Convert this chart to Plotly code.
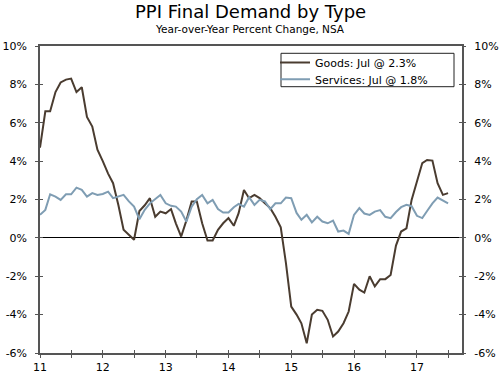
import plotly.graph_objects as go
import pandas as pd

months = pd.date_range("2011-01-01", "2017-07-01", freq="MS")

goods = [4.7, 6.6, 6.6, 7.6, 8.1, 8.25, 8.3, 7.6, 7.85, 6.3, 5.8, 4.6,
         4.0, 3.35, 2.85, 1.7, 0.42, 0.15, -0.1, 1.4, 1.7, 2.07, 1.1, 1.37,
         1.28, 1.5, 0.76, 0.07, 0.9, 1.9, 1.9, 0.76, -0.14, -0.14, 0.42, 0.76,
         1.03, 0.63, 1.29, 2.5, 2.07, 2.24, 2.07, 1.8, 1.55, 1.1, 0.55, -1.3,
         -3.58, -4.0, -4.45, -5.49, -4.0, -3.75, -3.8, -4.27, -5.14, -4.88, -4.45, -3.84,
         -2.4, -2.7, -2.85, -2.0, -2.53, -2.15, -2.15, -1.93, -0.4, 0.33, 0.5, 1.98,
         3.0, 3.9, 4.06, 4.03, 2.85, 2.24, 2.33]

services = [1.2, 1.46, 2.27, 2.15, 1.98, 2.27, 2.27, 2.62, 2.5, 2.15, 2.33, 2.24,
            2.29, 2.41, 2.07, 2.15, 2.24, 1.9, 1.63, 0.97, 1.46, 1.8, 2.02, 2.24,
            1.8, 1.67, 1.63, 1.37, 0.85, 1.63, 2.02, 2.24, 1.8, 1.98, 1.5, 1.32,
            1.32, 1.6, 1.77, 1.63, 2.12, 1.72, 1.98, 1.9, 1.5, 1.8, 1.8, 2.1,
            2.07, 1.3, 0.94, 1.2, 0.81, 1.1, 0.85, 0.76, 0.9, 0.33, 0.38, 0.21,
            1.2, 1.55, 1.27, 1.2, 1.37, 1.45, 1.1, 1.03, 1.35, 1.6, 1.72, 1.65,
            1.15, 1.03, 1.4, 1.8, 2.1, 1.93, 1.8]

year_ticks = ["2011-01-01", "2011-07-01", "2012-01-01", "2012-07-01", "2013-01-01",
              "2013-07-01", "2014-01-01", "2014-07-01", "2015-01-01", "2015-07-01",
              "2016-01-01", "2016-07-01", "2017-01-01", "2017-07-01"]
year_labels = ["11", "", "12", "", "13", "", "14", "", "15", "", "16", "", "17", ""]
y_ticks = [-6, -4, -2, 0, 2, 4, 6, 8, 10]
y_labels = [f"{v}%" for v in y_ticks]

goods_color = "#4a3c30"
services_color = "#7f9db3"
axis_color = "#555555"
font_family = "DejaVu Sans"

PL, PR, PT, PB = 40, 38, 46, 21
PW = 500 - PL - PR
PH = 374 - PT - PB

fig = go.Figure()
fig.add_trace(go.Scatter(x=months, y=goods, mode="lines", name="Goods: Jul @ 2.3%",
                         line=dict(color=goods_color, width=2), legend="legend"))
fig.add_trace(go.Scatter(x=months, y=services, mode="lines", name="Services: Jul @ 1.8%",
                         line=dict(color=services_color, width=2), legend="legend2"))

xr = ["2011-01-01", "2017-09-20"]
yr = [-6, 10]

common_x = dict(range=xr, tickmode="array", tickvals=year_ticks, showgrid=False,
                zeroline=False, linecolor=axis_color, linewidth=1.5,
                tickcolor=axis_color, tickwidth=1, automargin=False)
common_y = dict(range=yr, tickmode="array", tickvals=y_ticks, showgrid=False,
                tickcolor=axis_color, automargin=False)

leg_common = dict(xanchor="left", yanchor="middle", bgcolor="rgba(0,0,0,0)",
                  borderwidth=0, font=dict(size=11, family=font_family, color="black"))
lx = (275 - PL) / PW

fig.update_layout(
    width=500, height=374,
    margin=dict(l=PL, r=PR, t=PT, b=PB, autoexpand=False),
    paper_bgcolor="white", plot_bgcolor="white",
    font=dict(family=font_family, size=11, color="black"),
    showlegend=True,
    legend=dict(**leg_common, x=lx, y=(374 - PB - 62.5) / PH),
    legend2=dict(**leg_common, x=lx, y=(374 - PB - 79.3) / PH),
    xaxis=dict(**common_x, ticktext=year_labels, ticks="outside", ticklen=3,
               mirror=True, showline=True, ticklabelstandoff=0),
    xaxis2=dict(**common_x, overlaying="x", matches="x", ticks="inside", ticklen=3,
                showticklabels=False, showline=False, side="bottom"),
    yaxis=dict(**common_y, ticktext=y_labels, ticks="outside", ticklen=3,
               zeroline=True, zerolinecolor="black", zerolinewidth=1,
               showline=True, mirror=True, linecolor=axis_color, linewidth=1.5,
               ticklabelstandoff=6),
    yaxis2=dict(**common_y, ticktext=y_labels, overlaying="y", side="right",
                ticks="outside", ticklen=3, zeroline=False, showline=False,
                ticklabelstandoff=6),
    yaxis3=dict(**common_y, overlaying="y", side="left", ticks="inside", ticklen=3,
                showticklabels=False, zeroline=False, showline=False),
    yaxis4=dict(**common_y, overlaying="y", side="right", ticks="inside", ticklen=3,
                showticklabels=False, zeroline=False, showline=False),
)
for ya in ["y2", "y3", "y4"]:
    fig.add_trace(go.Scatter(x=[months[0]], y=[0], xaxis="x2", yaxis=ya, mode="markers",
                             marker=dict(opacity=0), showlegend=False, hoverinfo="skip"))

fig.add_shape(type="rect", xref="paper", yref="paper",
              x0=(281 - PL) / PW, x1=(454 - PL) / PW,
              y0=(374 - PB - 86.7) / PH, y1=(374 - PB - 53.3) / PH,
              line=dict(color="#222222", width=1), fillcolor="white", layer="below")

fig.add_annotation(text="PPI Final Demand by Type", xref="paper", yref="paper",
                   x=(250 - PL) / PW, y=1 + (PT - 12) / PH, xanchor="center",
                   yanchor="middle", showarrow=False,
                   font=dict(size=18, family=font_family, color="black"))
fig.add_annotation(text="Year-over-Year Percent Change, NSA", xref="paper", yref="paper",
                   x=(250 - PL) / PW, y=1 + (PT - 29.5) / PH, xanchor="center",
                   yanchor="middle", showarrow=False,
                   font=dict(size=10.5, family=font_family, color="black"))

fig.write_html("out.html", config={"displayModeBar": False},
               post_script="document.body.style.margin='0';")
